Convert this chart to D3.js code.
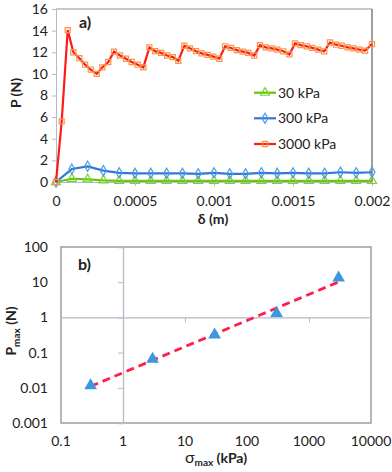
<!DOCTYPE html>
<html><head><meta charset="utf-8">
<script src="https://cdn.jsdelivr.net/npm/d3@7"></script>
<style>
html,body{margin:0;padding:0;background:#fff;}
svg{display:block;font-family:Lato,"Open Sans",sans-serif;}
</style></head>
<body>
<svg id="c" width="392" height="472"></svg>
<script>
// ---------- Data: panel a) ----------
const redX = [0,0.000036,0.000074,0.00011,0.000148,0.000184,0.00022,0.000258,0.000293,0.000331,0.000367,0.000405,0.000443,0.000479,0.000517,0.000553,0.000591,0.000627,0.000665,0.000703,0.000739,0.000774,0.000812,0.000848,0.000886,0.000922,0.00096,0.000996,0.001034,0.00107,0.001108,0.001144,0.001182,0.001217,0.001255,0.001291,0.001327,0.001365,0.001401,0.001439,0.001477,0.001513,0.001549,0.001587,0.001622,0.00166,0.001698,0.001734,0.001772,0.001808,0.001846,0.001882,0.00192,0.001956,0.002];
const redP = [0,5.6,14.05,12.0,11.45,10.85,10.4,10.0,10.6,11.1,12.06,11.7,11.4,11.1,10.85,10.6,12.45,12.1,11.94,11.7,11.55,11.2,12.6,12.36,12.1,11.9,11.76,11.6,11.4,12.55,12.4,12.2,12.06,11.94,11.7,12.66,12.45,12.36,12.24,12.09,11.8,12.82,12.66,12.55,12.4,12.24,12.09,12.9,12.7,12.6,12.45,12.36,12.24,12.15,12.75];
const lowX = [0,0.0001,0.0002,0.0003,0.0004,0.0005,0.0006,0.0007,0.0008,0.0009,0.001,0.0011,0.0012,0.0013,0.0014,0.0015,0.0016,0.0017,0.0018,0.0019,0.002];
const blueP = [0,1.2,1.45,1.05,0.85,0.8,0.8,0.8,0.8,0.76,0.85,0.76,0.76,0.85,0.8,0.85,0.8,0.8,0.9,0.85,0.9];
const greenP = [0,0.3,0.25,0.15,0.1,0.1,0.1,0.1,0.1,0.1,0.1,0.1,0.1,0.1,0.1,0.1,0.1,0.1,0.1,0.1,0.1];
const seriesNames = ["30 kPa","300 kPa","3000 kPa"];
const xTicksA = [0,0.0005,0.001,0.0015,0.002];
const xTickLabelsA = ["0","0.0005","0.001","0.0015","0.002"];
const yTicksA = [0,2,4,6,8,10,12,14,16];

// ---------- Data: panel b) ----------
const sigmaMax = [0.3,3,30,300,3000];
const pMax = [0.0116,0.065,0.32,1.3,13.3];
const xTicksB = [0.1,1,10,100,1000,10000];
const xTickLabelsB = ["0.1","1","10","100","1000","10000"];
const yTicksB = [0.001,0.01,0.1,1,10,100];
const yTickLabelsB = ["0.001","0.01","0.1","1","10","100"];

const svg = d3.select("#c");
const FS = 14;
const axisCol = "#b3bcc5", frameCol = "#8f8f8f", txt = "#222";

// ===== Panel a =====
const xA = d3.scaleLinear().domain([0,0.002]).range([56,372]);
const yA = d3.scaleLinear().domain([0,16]).range([182,9]);
const gA = svg.append("g");
// frame
gA.append("line").attr("x1",xA(0)).attr("x2",xA(0.002)).attr("y1",yA(16)).attr("y2",yA(16)).attr("stroke",frameCol);
gA.append("line").attr("x1",xA(0.002)).attr("x2",xA(0.002)).attr("y1",yA(16)).attr("y2",yA(0)).attr("stroke","#7f7f7f").attr("stroke-width",1.5);
// y axis
const yAxA = d3.axisLeft(yA).tickValues(yTicksA).tickSize(4).tickPadding(4).tickFormat(d3.format("d"));
const ga = gA.append("g").attr("transform",`translate(${xA(0)},0)`).call(yAxA);
ga.select(".domain").attr("stroke",axisCol);
ga.selectAll(".tick line").attr("stroke",axisCol);
ga.selectAll("text").attr("font-size",FS).attr("fill",txt).attr("font-family","Lato");
// x axis
const xAxA = d3.axisBottom(xA).tickValues(xTicksA).tickSize(4).tickPadding(10)
  .tickFormat((d,i)=>xTickLabelsA[i]);
const gx = gA.append("g").attr("transform",`translate(0,${yA(0)})`).call(xAxA);
gx.select(".domain").attr("stroke",axisCol);
gx.selectAll(".tick line").attr("stroke",axisCol);
gx.selectAll("text").attr("font-size",FS).attr("fill",txt).attr("font-family","Lato");

// series
const lineA = d3.line().x(d=>xA(d[0])).y(d=>yA(d[1]));
const green = lowX.map((x,i)=>[x,greenP[i]]);
const blue = lowX.map((x,i)=>[x,blueP[i]]);
const red = redX.map((x,i)=>[x,redP[i]]);
const sty = [
  {data:green, line:"#66c41c", mk:"#7ed321", sym:d3.symbolTriangle, size:34},
  {data:blue, line:"#2f78d6", mk:"#4a98ee", sym:d3.symbolDiamond, size:30},
  {data:red, line:"#ff1a1a", mk:"#f79646", sym:d3.symbolSquare, size:26}
];
sty.forEach(s=>{
  gA.append("path").datum(s.data).attr("d",lineA).attr("fill","none").attr("stroke",s.line).attr("stroke-width",2.2);
  gA.selectAll(null).data(s.data).enter().append("path")
    .attr("d",d3.symbol().type(s.sym).size(s.size))
    .attr("transform",d=>`translate(${xA(d[0])},${yA(d[1])})`)
    .attr("fill","none").attr("stroke",s.mk).attr("stroke-width",1.2);
});
// legend
const legY = [92.7,118.3,144];
sty.forEach((s,i)=>{
  const g = gA.append("g");
  g.append("line").attr("x1",254).attr("x2",276).attr("y1",legY[i]).attr("y2",legY[i]).attr("stroke",s.line).attr("stroke-width",2.2);
  g.append("path").attr("d",d3.symbol().type(s.sym).size(s.size)).attr("transform",`translate(265,${legY[i]})`)
    .attr("fill","none").attr("stroke",s.mk).attr("stroke-width",1.2);
  g.append("text").attr("x",278).attr("y",legY[i]+5).attr("font-size",FS).attr("fill",txt).text(seriesNames[i]);
});
gA.append("text").attr("x",79).attr("y",28).attr("font-size",16).attr("font-weight","bold").attr("fill",txt).text("a)");
gA.append("text").attr("x",213).attr("y",224).attr("text-anchor","middle").attr("font-size",FS).attr("font-weight","bold").attr("fill",txt).text("δ (m)");
gA.append("text").attr("transform","translate(21,93) rotate(-90)").attr("text-anchor","middle").attr("font-size",FS).attr("font-weight","bold").attr("fill",txt).text("P (N)");

// ===== Panel b =====
const xB = d3.scaleLog().domain([0.1,10000]).range([61,371]);
const yB = d3.scaleLog().domain([0.001,100]).range([423,247]);
const gB = svg.append("g");
gB.append("rect").attr("x",xB(0.1)).attr("y",yB(100)).attr("width",xB(10000)-xB(0.1)).attr("height",yB(0.001)-yB(100))
  .attr("fill","none").attr("stroke",frameCol).attr("stroke-width",1.3);
// crossing axes at 1
const yAxB = d3.axisLeft(yB).tickValues(yTicksB).tickSize(5).tickFormat("");
const gyb = gB.append("g").attr("transform",`translate(${xB(1)},0)`).call(yAxB);
gyb.select(".domain").attr("stroke",axisCol).attr("stroke-width",1.3);
gyb.selectAll(".tick line").attr("stroke",axisCol);
const xAxB = d3.axisBottom(xB).tickValues(xTicksB).tickSize(5).tickFormat("");
const gxb = gB.append("g").attr("transform",`translate(0,${yB(1)})`).call(xAxB);
gxb.select(".domain").attr("stroke",axisCol).attr("stroke-width",1.3);
gxb.selectAll(".tick line").attr("stroke",axisCol);
// tick labels at frame edges
gB.selectAll(null).data(yTicksB).enter().append("text")
  .attr("x",48).attr("y",d=>yB(d)+5).attr("text-anchor","end").attr("font-size",FS).attr("fill",txt)
  .text((d,i)=>yTickLabelsB[i]);
gB.selectAll(null).data(xTicksB).enter().append("text")
  .attr("x",d=>xB(d)).attr("y",446).attr("text-anchor","middle").attr("font-size",FS).attr("fill",txt)
  .text((d,i)=>xTickLabelsB[i]);
// trend line (power-law least squares in log space)
const lx = sigmaMax.map(Math.log10), ly = pMax.map(Math.log10);
const mx = d3.mean(lx), my = d3.mean(ly);
const b = d3.sum(lx.map((v,i)=>(v-mx)*(ly[i]-my)))/d3.sum(lx.map(v=>(v-mx)*(v-mx)));
const a = my - b*mx;
const trendX = [sigmaMax[0], sigmaMax[sigmaMax.length-1]];
gB.append("path").datum(trendX.map(x=>[x,Math.pow(10,a+b*Math.log10(x))]))
  .attr("d",d3.line().x(d=>xB(d[0])).y(d=>yB(d[1])))
  .attr("fill","none").attr("stroke","#ff1f4b").attr("stroke-width",2.8).attr("stroke-dasharray","8,5");
gB.selectAll(null).data(sigmaMax).enter().append("path")
  .attr("d",d3.symbol().type(d3.symbolTriangle).size(70))
  .attr("transform",(d,i)=>`translate(${xB(d)},${yB(pMax[i])})`)
  .attr("fill","#3d97e0");
gB.append("text").attr("x",78).attr("y",270).attr("font-size",16).attr("font-weight","bold").attr("fill",txt).text("b)");
const yt = gB.append("text").attr("transform","translate(16,331) rotate(-90)").attr("text-anchor","middle").attr("font-size",FS).attr("font-weight","bold").attr("fill",txt);
yt.append("tspan").text("P");
yt.append("tspan").attr("font-size",10).attr("dy",4).text("max");
yt.append("tspan").attr("dy",-4).text(" (N)");
const xt = gB.append("text").attr("x",216).attr("y",463).attr("text-anchor","middle").attr("font-size",FS).attr("font-weight","bold").attr("fill",txt);
xt.append("tspan").attr("font-weight","normal").attr("font-size",16).text("σ");
xt.append("tspan").attr("font-size",10).attr("dy",3).text("max");
xt.append("tspan").attr("dy",-3).text(" (kPa)");
</script>
</body></html>
